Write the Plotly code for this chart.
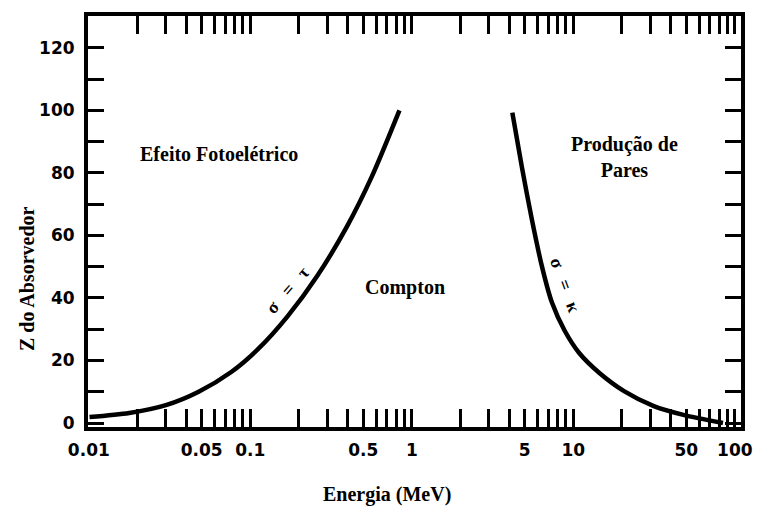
import plotly.graph_objects as go

# Boundary where photoelectric and Compton cross sections are equal (sigma = tau)
photo_compton_energy = [0.0101, 0.0178, 0.0300, 0.0479, 0.0762, 0.1115, 0.170, 0.260, 0.397, 0.565, 0.838]
photo_compton_z = [1.9, 3.2, 5.7, 10.0, 16.3, 23.6, 34.1, 47.1, 62.9, 78.8, 100]

# Boundary where Compton and pair production cross sections are equal (sigma = kappa)
compton_pair_energy = [4.19, 4.82, 5.55, 6.39, 7.36, 8.84, 10.9, 14.5, 20.6, 31.5, 48.0, 84.4]
compton_pair_z = [99.3, 81.4, 64.8, 50.1, 38.6, 29.5, 22.3, 16.0, 10.2, 5.4, 2.6, 0]

# Energy axis ticks (log scale, every integer multiple within each decade)
x_labeled = {0.01: "0.01", 0.05: "0.05", 0.1: "0.1", 0.5: "0.5", 1: "1",
             5: "5", 10: "10", 50: "50", 100: "100"}
x_tickvals = [round(k * 10.0 ** d, 4) for d in range(-2, 2) for k in range(1, 10)] + [100]
x_ticktext = [x_labeled.get(v, "") for v in x_tickvals]

# Z axis ticks
y_tickvals = list(range(0, 131, 10))
y_ticktext = [str(v) if v % 20 == 0 else "" for v in y_tickvals]

W, H = 765, 506
L, R, T, B = 88, 17, 15, 79


def px(x):
    return (x - L) / (W - L - R)


def py(y):
    return (H - B - y) / (H - T - B)


fig = go.Figure()
line_style = dict(color="black", width=4.5, shape="spline", smoothing=0.8)
fig.add_trace(go.Scatter(x=photo_compton_energy, y=photo_compton_z, mode="lines",
                         line=line_style, showlegend=False, hoverinfo="skip"))
fig.add_trace(go.Scatter(x=compton_pair_energy, y=compton_pair_z, mode="lines",
                         line=line_style, showlegend=False, hoverinfo="skip"))

tick_font = dict(family="DejaVu Sans", size=17, color="black", weight="bold")
serif = "Liberation Serif"

fig.update_xaxes(
    type="log", range=[-2.005, 2.038],
    tickvals=x_tickvals, ticktext=x_ticktext,
    ticks="inside", ticklen=18, tickwidth=2.5, tickcolor="black",
    showline=True, linewidth=4, linecolor="black", mirror="ticks",
    showgrid=False, zeroline=False, tickfont=tick_font, ticklabelstandoff=5,
)
fig.update_yaxes(
    range=[-1.28, 130.2],
    tickvals=y_tickvals, ticktext=y_ticktext,
    ticks="inside", ticklen=16, tickwidth=3, tickcolor="black",
    showline=True, linewidth=4, linecolor="black", mirror="ticks",
    showgrid=False, zeroline=False, tickfont=tick_font, ticklabelstandoff=6,
)

label_font = dict(family=serif, size=20, color="black", weight="bold")
small_font = dict(family=serif, size=18, color="black", weight="bold")
gap = "\u00a0" * 3


def note(text, x, y, font, angle=0):
    fig.add_annotation(text=text, x=px(x), y=py(y), xref="paper", yref="paper",
                       showarrow=False, font=font, textangle=angle,
                       xanchor="center", yanchor="middle")


note("Efeito Fotoelétrico", 220, 153, label_font)
note("Compton", 408, 287, label_font)
note("Produção de<br>Pares", 630, 156, label_font)
note("σ" + gap + "=" + gap + "τ", 290, 290, small_font, -49)
note("σ" + gap + "=" + gap + "κ", 570, 285, small_font, 70)
note("Energia (MeV)", 390, 495, label_font)
note("Z do Absorvedor", 27, 278, label_font, -90)

fig.update_layout(
    width=W, height=H,
    margin=dict(l=L, r=R, t=T, b=B),
    paper_bgcolor="white", plot_bgcolor="white",
    showlegend=False,
)

fig.write_html("out.html")
